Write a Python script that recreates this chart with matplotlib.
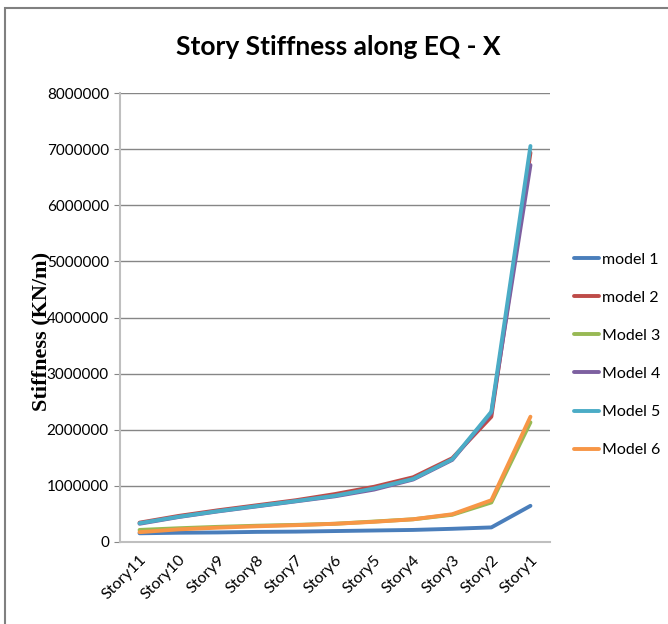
import matplotlib
matplotlib.use("Agg")
import matplotlib.pyplot as plt
from matplotlib.patches import Rectangle

stories = ["Story11", "Story10", "Story9", "Story8", "Story7", "Story6",
           "Story5", "Story4", "Story3", "Story2", "Story1"]

model_1 = [150000, 160000, 165000, 175000, 180000, 190000, 200000, 210000, 230000, 255000, 640000]
model_2 = [340000, 460000, 560000, 650000, 740000, 850000, 980000, 1150000, 1490000, 2230000, 6940000]
model_3 = [210000, 240000, 265000, 285000, 300000, 320000, 360000, 400000, 480000, 700000, 2130000]
model_4 = [320000, 440000, 540000, 630000, 720000, 810000, 930000, 1110000, 1460000, 2300000, 6720000]
model_5 = [330000, 445000, 545000, 635000, 725000, 820000, 950000, 1120000, 1470000, 2320000, 7060000]
model_6 = [170000, 220000, 250000, 275000, 295000, 320000, 355000, 400000, 490000, 740000, 2230000]

series_names = ["model 1", "model 2", "Model 3", "Model 4", "Model 5", "Model 6"]
series_values = [model_1, model_2, model_3, model_4, model_5, model_6]
colors = ["#4A7EBB", "#BE4B48", "#98B954", "#7D60A0", "#4BACC6", "#F79646"]

y_ticks = [0, 1000000, 2000000, 3000000, 4000000, 5000000, 6000000, 7000000, 8000000]

sans = ["Lato", "DejaVu Sans"]

fig = plt.figure(figsize=(6.68, 6.24), dpi=100)
fig.patch.set_facecolor("white")

# outer chart frame
fig.add_artist(Rectangle((5 / 668, -0.05), 1.1, 1 - 8 / 624 + 0.05,
                         transform=fig.transFigure, fill=False,
                         edgecolor="#808080", linewidth=1.5))

ax = fig.add_axes([120 / 668, (624 - 541.7) / 624, 430 / 668, (541.7 - 93.3) / 624])
x = list(range(len(stories)))
for name, vals, c in zip(series_names, series_values, colors):
    ax.plot(x, vals, color=c, linewidth=2.8, label=name, solid_capstyle="round")

ax.set_xlim(-0.5, len(stories) - 0.5)
ax.set_ylim(0, 8000000)
ax.set_yticks(y_ticks)
ax.set_yticklabels([str(v) for v in y_ticks], fontsize=11, family=sans)
ax.set_xticks(x)
ax.set_xticklabels(stories, rotation=45, ha="right", va="top",
                   rotation_mode="anchor", fontsize=11.5, family=sans)
ax.tick_params(axis="y", length=4, color="#868686", pad=4)
ax.tick_params(axis="x", length=0, pad=8)
ax.grid(axis="y", color="#868686", linewidth=1)
ax.set_axisbelow(True)
for side in ["top", "right"]:
    ax.spines[side].set_visible(False)
ax.spines["left"].set_color("#BFBFBF")
ax.spines["left"].set_linewidth(1.5)
ax.spines["bottom"].set_color("#BFBFBF")
ax.spines["bottom"].set_linewidth(1.5)

ax.set_ylabel("Stiffness (KN/m)", fontsize=16, fontweight="bold",
              family=["Liberation Serif", "DejaVu Serif"])
ax.yaxis.set_label_coords(-0.16, 0.47)

fig.text(338 / 668, 1 - 47 / 624, "Story Stiffness along EQ - X",
         ha="center", va="center", fontsize=19, fontweight="bold", family=sans)

leg = fig.legend(loc="upper left", bbox_to_anchor=(568 / 668, 1 - 246 / 624),
                 frameon=False, prop={"family": sans, "size": 11.5},
                 handlelength=1.55, handletextpad=0.2, labelspacing=1.5,
                 borderaxespad=0, borderpad=0.4)

fig.savefig("out.png", dpi=100, facecolor="white")
